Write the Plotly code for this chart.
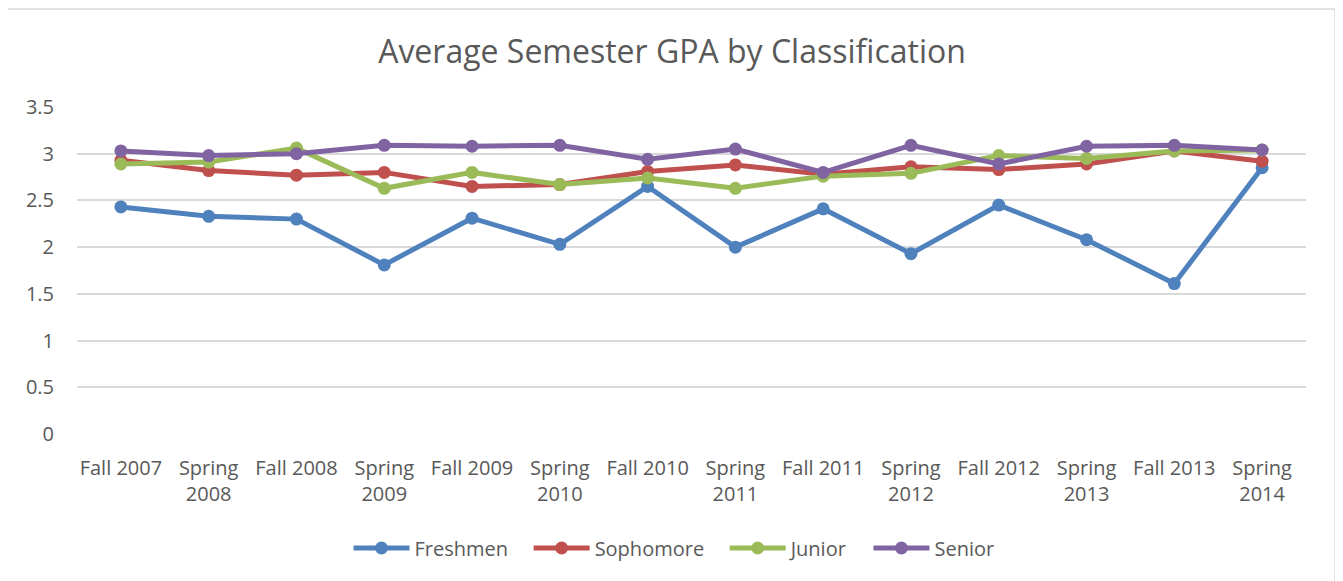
import plotly.graph_objects as go

semesters = ["Fall 2007", "Spring<br>2008", "Fall 2008", "Spring<br>2009", "Fall 2009",
             "Spring<br>2010", "Fall 2010", "Spring<br>2011", "Fall 2011", "Spring<br>2012",
             "Fall 2012", "Spring<br>2013", "Fall 2013", "Spring<br>2014"]

freshmen = [2.43, 2.33, 2.30, 1.81, 2.31, 2.03, 2.65, 2.00, 2.41, 1.93, 2.45, 2.08, 1.61, 2.85]
sophomore = [2.93, 2.82, 2.77, 2.80, 2.65, 2.67, 2.81, 2.88, 2.78, 2.86, 2.83, 2.89, 3.03, 2.92]
junior = [2.89, 2.91, 3.06, 2.63, 2.80, 2.67, 2.74, 2.63, 2.76, 2.79, 2.98, 2.95, 3.03, 3.04]
senior = [3.03, 2.98, 3.00, 3.09, 3.08, 3.09, 2.94, 3.05, 2.80, 3.09, 2.89, 3.08, 3.09, 3.04]

series = [
    ("Freshmen", freshmen, "#4F81BD"),
    ("Sophomore", sophomore, "#C0504D"),
    ("Junior", junior, "#9BBB59"),
    ("Senior", senior, "#8064A2"),
]

PAD = "\u00a0" * 3  # extra spacing between legend entries

fig = go.Figure()
for i, (name, vals, color) in enumerate(series):
    fig.add_trace(go.Scatter(
        x=semesters, y=vals, name=name + (PAD if i < len(series) - 1 else ""),
        mode="lines+markers",
        line=dict(color=color, width=5),
        marker=dict(color=color, size=13),
    ))

font_family = "Open Sans"
text_color = "#595959"

# page has an 8px body margin; figure coords = page coords - 8
L, T, PW, PH = 69, 99, 1229, 327

fig.update_layout(
    width=1343, height=581,
    paper_bgcolor="white", plot_bgcolor="white",
    margin=dict(l=L, r=1343 - L - PW, t=T, b=581 - T - PH),
    title=dict(text="Average Semester GPA by Classification",
               x=664 / 1343, xanchor="center", xref="container",
               y=1 - 44 / 581, yanchor="middle", yref="container",
               font=dict(family=font_family, size=32, color=text_color)),
    font=dict(family=font_family, size=20, color=text_color),
    xaxis=dict(type="category", range=[-0.5, 13.5], showgrid=False,
               showline=False, zeroline=False,
               ticks="outside", ticklen=16, tickcolor="rgba(0,0,0,0)",
               tickfont=dict(family=font_family, size=20, color=text_color)),
    yaxis=dict(range=[0, 3.5], dtick=0.5, showgrid=True, gridcolor="#D9D9D9",
               gridwidth=1.5, zeroline=False, showline=False,
               ticks="outside", ticklen=18, tickcolor="rgba(0,0,0,0)",
               tickfont=dict(family=font_family, size=20, color=text_color)),
    legend=dict(orientation="h", x=(666 - L) / PW, xanchor="center",
                y=1 - (540 - T) / PH, yanchor="middle",
                font=dict(family=font_family, size=20, color=text_color),
                itemwidth=56, tracegroupgap=0),
    shapes=[dict(type="rect", xref="paper", yref="paper",
                 x0=(-1 - L) / PW, x1=(1327 - L) / PW,
                 y0=(T + PH - 600) / PH, y1=(T + PH - 1) / PH,
                 line=dict(color="#D9D9D9", width=1.5), fillcolor="rgba(0,0,0,0)",
                 layer="below")],
)

fig.write_html("out.html")
